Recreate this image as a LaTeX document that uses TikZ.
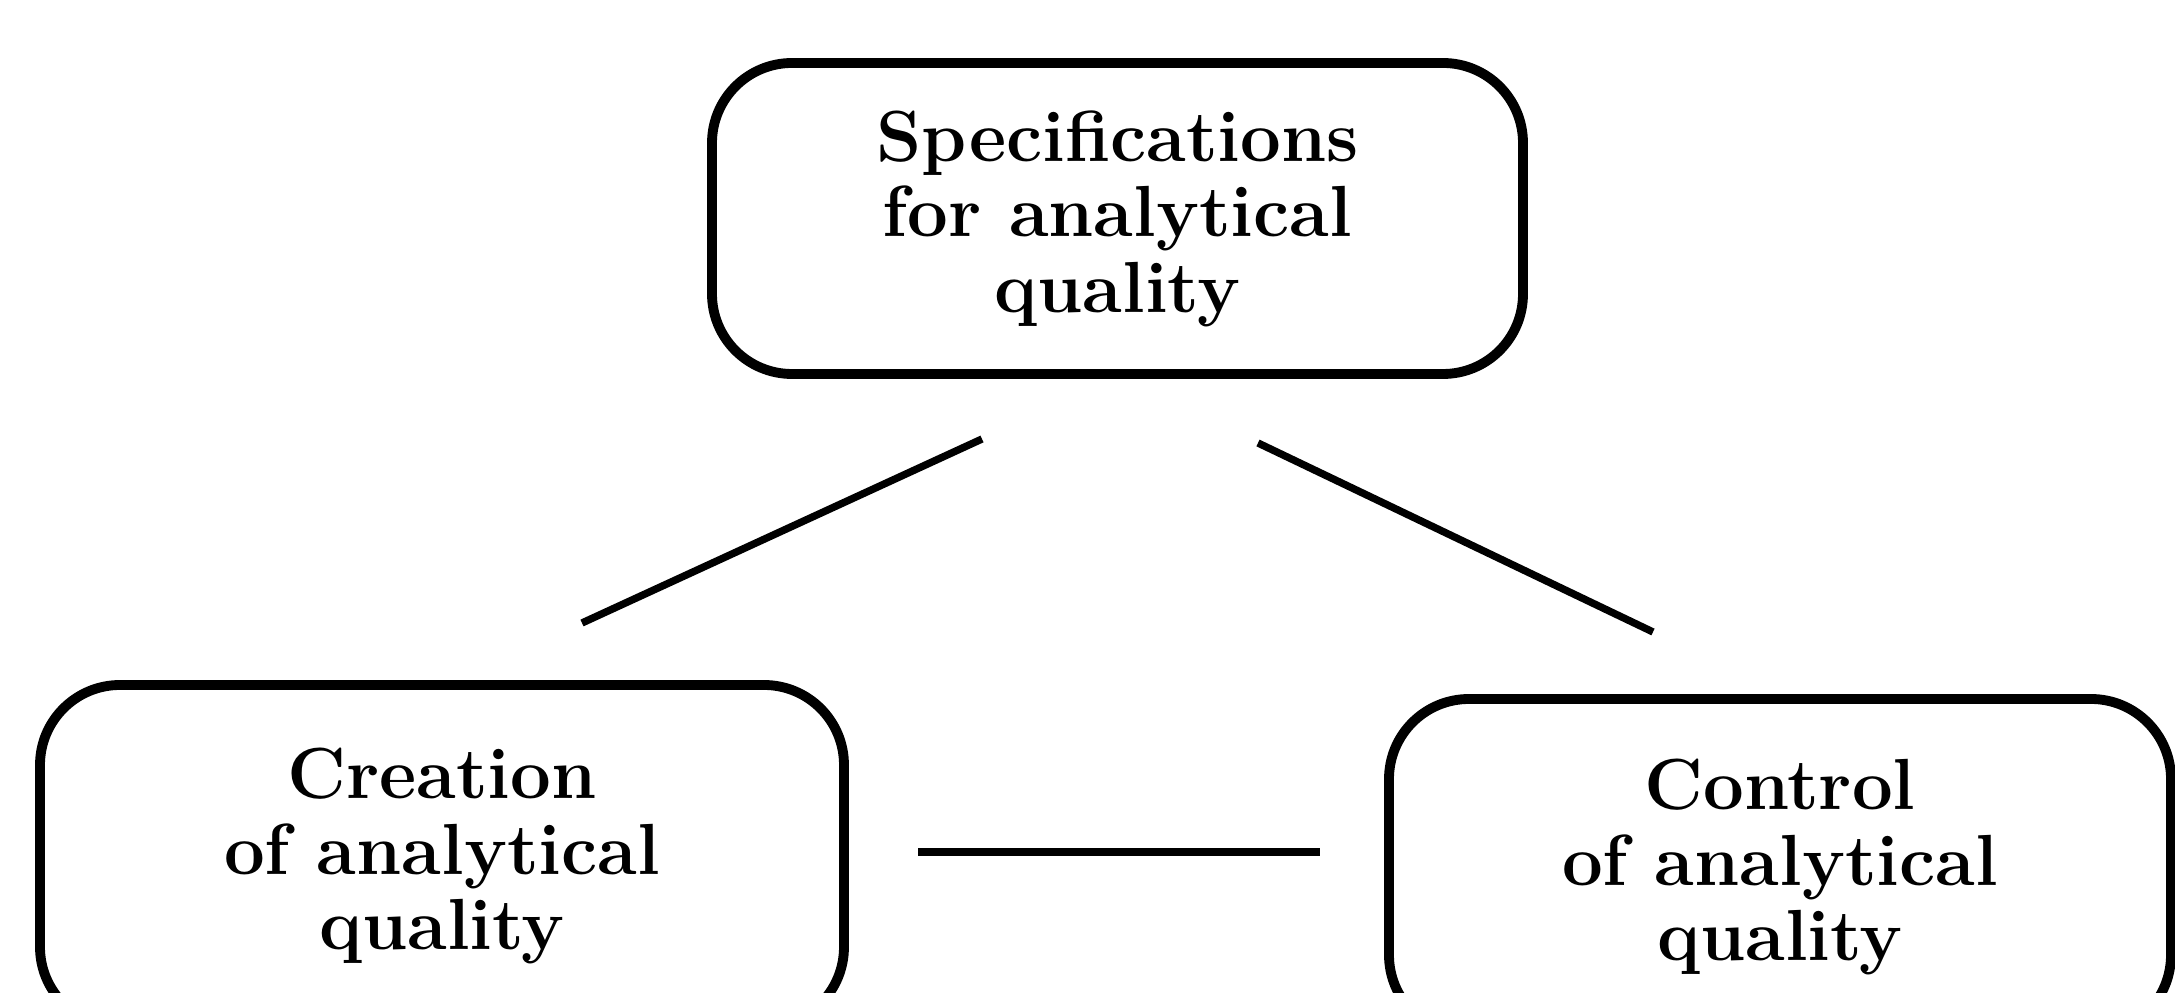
\documentclass[tikz,border=0pt]{standalone}
\tikzset{
  qualbox/.style={draw, line width=2.8pt, rounded corners=0.8cm, inner sep=0pt,
    align=center,
    font={\fontsize{20.6}{21.5}\selectfont\bfseries\lineskiplimit=0pt\lineskip=2pt}},
  link/.style={line width=2.1pt}
}
\begin{document}
\begin{tikzpicture}
  %% ── Frame (boxes at the bottom run off the page) ─────────
  \useasboundingbox[fill=white] (0,0) rectangle (21.75,9.93);
  \clip (0,0) rectangle (21.75,9.93);

  %% ── Boxes ────────────────────────────────────────────────
  \node[qualbox, minimum width=8.11cm, minimum height=3.11cm] (spec)
    at (11.175,7.745) {Specifications\\for analytical\\quality};
  \node[qualbox, minimum width=8.04cm, minimum height=3.42cm] (creation)
    at (4.42,1.37) {Creation\\of analytical\\quality};
  \node[qualbox, minimum width=7.82cm, minimum height=3.36cm] (control)
    at (17.80,1.26) {Control\\of analytical\\quality};

  %% ── Free-standing links between the boxes ────────────────
  \coordinate (specL) at (9.82,5.54);
  \coordinate (creaT) at (5.82,3.70);
  \coordinate (specR) at (12.58,5.50);
  \coordinate (ctrlT) at (16.53,3.61);
  \coordinate (creaR) at (9.18,1.41);
  \coordinate (ctrlL) at (13.20,1.41);
  \foreach \a/\b in {specL/creaT, specR/ctrlT, creaR/ctrlL}{
    \draw[link] (\a) -- (\b);
  }
\end{tikzpicture}
\end{document}
